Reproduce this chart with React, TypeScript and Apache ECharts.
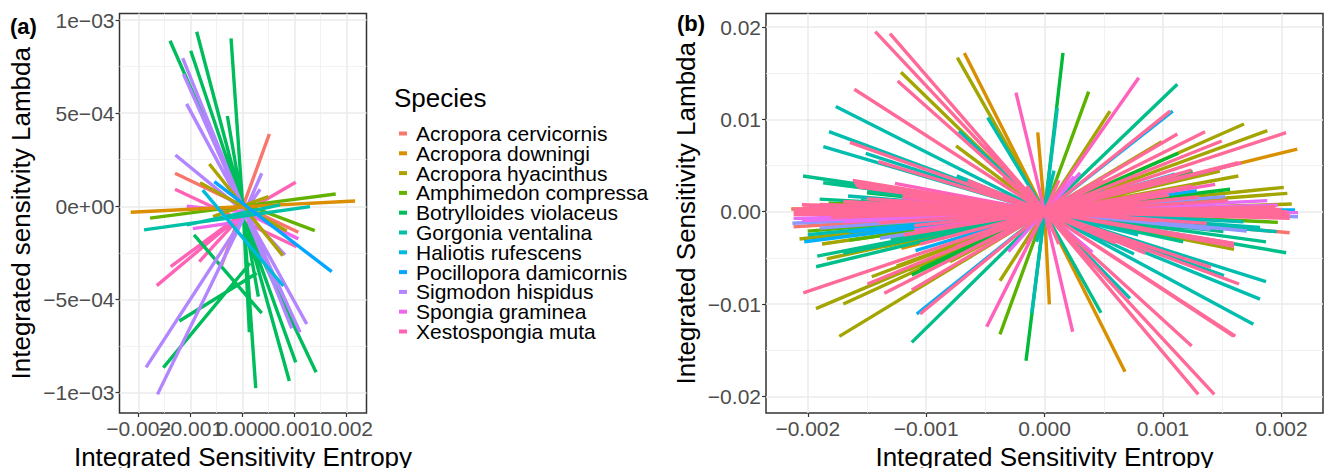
import React, { useEffect, useRef } from "react";
import * as echarts from "echarts";

type Seg = number[];
type Ray = number[];

// ---------- Panel (a): species, colours, segments [x1, y1, x2, y2] ----------
const species = [
  "Acropora cervicornis", "Acropora downingi", "Acropora hyacinthus", "Amphimedon compressa",
  "Botrylloides violaceus", "Gorgonia ventalina", "Haliotis rufescens", "Pocillopora damicornis",
  "Sigmodon hispidus", "Spongia graminea", "Xestospongia muta",
];
const speciesColors = ["#F8766D", "#DB8E00", "#AEA200", "#64B200", "#00BD5C", "#00C1A7", "#00BADE", "#00A6FF", "#B385FF", "#EF67EB", "#FF63B6"];

const cervicornis: Seg[] = [[0.000512, 0.000388, -0.000404, -0.000315], [-0.001302, 0.000177, 0.00107, -0.00014]];
const downingi: Seg[] = [[-0.002154, -0.000032, 0.00216, 0.000028]];
const hyacinthus: Seg[] = [[-0.000642, 0.000227, 0.000769, -0.000265], [-0.000821, 0.000127, 0.000846, -0.000133], [0.000493, 0.000052, -0.000571, -0.000056]];
const compressa: Seg[] = [[-0.001783, -0.000064, 0.001788, 0.000066], [0.001385, -0.000131, 0.00014, 0]];
const violaceus: Seg[] = [
  [-0.001398, 0.000889, 0.00005, -0.00003], [-0.000885, 0.000937, 0, 0], [-0.001, 0.000835, 0, 0],
  [-0.000225, 0.000902, 0, 0], [-0.000296, 0.000485, 0, 0], [0.00025, -0.000977, 0.00002, -0.00006],
  [0.000127, -0.000676, 0.00002, -0.00008], [0.0003, -0.000485, 0.00005, -0.00009], [0.000896, -0.000938, 0.00005, -0.00009],
  [0.001019, -0.000838, 0.00005, -0.00009], [0.00141, -0.000891, 0.00005, -0.00009],
  [-0.001527, -0.000866, 0.00014, -0.000306], [-0.001219, -0.000616, 0.000269, -0.00036], [-0.000937, -0.000154, 0.000365, -0.000574],
];
const ventalina: Seg[] = [[-0.001898, -0.000127, 0.001294, -0.000002], [-0.001077, -0.0001, 0.000717, 0.000007]];
const rufescens: Seg[] = [[-0.000769, 0.000087, 0.000781, -0.000428]];
const damicornis: Seg[] = [[-0.000546, 0.000132, 0.001711, -0.000351]];
const hispidus: Seg[] = [
  [-0.001155, 0.000795, 0.00004, -0.00003], [-0.00114, 0.00071, 0.00004, -0.00003], [-0.00108, 0.00055, 0.00004, -0.00003],
  [-0.001295, 0.000275, 0.00004, -0.00003], [-0.00186, -0.000865, 0.00004, -0.00005], [-0.00164, -0.00101, 0.00004, -0.00005],
  [0.001102, -0.000676, 0.00004, -0.00003], [0.000942, -0.000655, 0.00004, -0.00003], [0.001231, -0.000632, 0.00004, -0.00003],
  [0.000813, -0.000261, 0.00004, -0.00003], [0.000365, 0.000177, 0.00004, -0.00003], [0.000333, 0.000091, 0.00004, -0.00003],
];
const graminea: Seg[] = [[-0.00096, -0.00012, 0.00002, -0.00008], [0.00107, -0.000175, 0.00002, -0.00003], [-0.001077, 0, 0.00002, -0.00003]];
const muta: Seg[] = [
  [-0.001302, 0.000091, 0.001038, -0.000217], [-0.001654, -0.000426, 0.00004, -0.00003], [-0.001385, -0.000324, 0.00004, -0.00003],
  [-0.000835, -0.000297, 0.00004, -0.00003], [0.001019, 0.000129, 0.00004, -0.00003],
];
const panelASegments = [cervicornis, downingi, hyacinthus, compressa, violaceus, ventalina, rufescens, damicornis, hispidus, graminea, muta];
const panelADrawOrder = [0, 10, 9, 4, 8, 2, 3, 1, 5, 6, 7];

// ---------- Panel (b): end points [x, y] of lines leaving the origin, by hue ----------
const hueNames = ["salmon", "orange", "olive", "leaf", "green", "seagreen", "teal", "sky", "periwinkle", "violet", "hotpink", "rose"];
const hueColors = ["#F8766D", "#D89000", "#A3A500", "#5BB300", "#00BA38", "#00BF8A", "#00BDB0", "#00B0F6", "#8E96FF", "#E76BF3", "#FF62BC", "#FF6A98"];

const salmonRays: Ray[] = [[-0.00212, -0.00162], [0.00207, -0.00227]];
const orangeRays: Ray[] = [[-0.000678, 0.0172], [-0.000058, 0.0086], [0.002134, 0.00679], [-0.00121, -0.00397], [0.00004, -0.01003], [0.000679, -0.01733], [-0.00214, 0.0003]];
const oliveRays: Ray[] = [
  [-0.001213, 0.0151], [-0.000737, 0.0167], [-0.000748, 0.00712], [0.000552, 0.0109], [0.000989, 0.00758], [0.001684, 0.0095],
  [0.001881, 0.00878], [0.001481, 0.00441], [0.001636, 0.00387], [0.00202, 0.00264], [0.00205, 0.00199], [0.002087, 0.00083],
  [-0.001931, -0.0105], [-0.0017, -0.01], [-0.001734, -0.0135], [-0.00146, -0.00704], [-0.000377, -0.00748], [-0.00184, -0.0051],
  [-0.00188, -0.0035], [-0.00207, -0.00296], [-0.00136, -0.00379], [-0.0008, -0.00542], [0.0016, -0.00408], [-0.00125, -0.0059],
  [-0.00115, -0.0063],
];
const leafRays: Ray[] = [[0.000372, 0.013], [-0.000377, -0.01328], [-0.001825, 0.00093], [-0.002, -0.0021], [0.00197, -0.00115], [-0.00165, -0.0031]];
const greenRays: Ray[] = [[0.000155, 0.0172], [0.001129, 0.00633], [0.001566, 0.00243], [-0.000157, -0.01614], [-0.001122, -0.00686], [-0.00105, -0.0062], [0.00125, 0.0044], [-0.0015, 0.00206]];
const seagreenRays: Ray[] = [
  [0.001121, 0.0138], [-0.00204, 0.00387], [-0.00187, 0.00314], [-0.0018, 0.0031], [-0.0019, 0.00137], [-0.00193, -0.00596], [-0.00192, -0.0048],
  [-0.001122, -0.01415], [0.000476, -0.01094], [0.00187, -0.00326], [0.00204, -0.00444], [0.00117, -0.00325], [0.00151, -0.00216],
  [-0.0015, 0.00215], [-0.00155, 0.0012], [-0.0013, -0.003], [-0.0017, -0.0045],
];
const tealRays: Ray[] = [
  [-0.001764, 0.0114], [-0.001821, 0.00867], [-0.001869, 0.00704], [-0.001511, 0.00633], [-0.000742, 0.0039], [-0.000723, 0.00874], [-0.000481, 0.0102],
  [-0.00166, 0.0017], [0.000107, 0.0112], [0.000079, 0.00444], [-0.000109, -0.011], [-0.000067, -0.00325], [0.000721, -0.00938],
  [0.001763, -0.0122], [0.001819, -0.00946], [0.00187, -0.00758], [0.001515, -0.00693], [0.000755, -0.00458], [0.00079, -0.0025],
  [0.00196, -0.00216], [0.00182, -0.0017], [0.00168, -0.00109], [-0.002, -0.0025], [0.0005, 0.0023],
];
const skyRays: Ray[] = [[0.001082, 0.0109], [0.001101, 0.00408], [0.001285, 0.00228], [0.002115, 0.0002], [-0.00108, -0.01108], [-0.00203, -0.00325], [-0.00109, -0.0042], [-0.00165, -0.0022], [0.0013, -0.0012]];
const periwinkleRays: Ray[] = [[0.001524, 0.00163], [0.00214, -0.00054], [0.001707, -0.00209], [-0.00213, -0.00125], [-0.0019, -0.00178], [-0.00139, -0.00287], [0.0014, -0.0019]];
const violetRays: Ray[] = [[0.00188, 0.0012], [0.00197, 0.00072], [0.00214, -0.0001], [-0.00212, -0.00072], [-0.00205, -0.00095], [-0.0017, -0.0011], [-0.000306, -0.00433], [0.000403, -0.0044], [0.0003, 0.0042], [0.00025, 0.0038], [-0.0013, 0.0012], [0.0017, -0.0003]];
const hotpinkRays: Ray[] = [[-0.000242, 0.0129], [0.000795, 0.0145], [-0.001264, 0.00307], [0.00144, 0.00297], [-0.000489, -0.01246], [0.000237, -0.013], [0.00166, 0.0053], [0.00113, 0.00408], [-0.0011, -0.002], [-0.0012, 0.0015]];
const roseRays: Ray[] = [
  [-0.00143, 0.0195], [-0.001306, 0.0193], [-0.001241, 0.01416], [-0.001607, 0.01326], [-0.001644, 0.00752], [-0.001404, 0.00542],
  [-0.00162, 0.0034], [-0.00161, 0.0032], [-0.0016, 0.003], [-0.00159, 0.00285], [-0.00158, 0.0027], [-0.0015, 0.00255], [-0.0014, 0.0024], [-0.0013, 0.00225], [-0.0012, 0.0021], [-0.00204, 0.0005], [-0.00212, 0],
  [-0.00213, 0.0003], [-0.00212, -0.0003], [-0.00205, 0.00075], [-0.0019, 0.0008], [-0.0017, 0.0011], [-0.0015, 0.0014], [-0.0012, 0.0017], [-0.0018, -0.0006],
  [-0.0014, -0.0012], [-0.0011, -0.0015], [-0.00065, 0.0034], [-0.00035, 0.0038], [-0.00015, 0.0028],
  [0.00106, 0.0109], [0.001121, 0.00842], [0.001355, 0.00867], [0.001496, 0.00766], [0.002039, 0.00856], [0.001636, 0.00531],
  [0.00124, 0.0045], [0.00103, 0.0036], [0.00125, 0.0028], [0.0008, 0.0028], [0.0005, 0.0033], [0.00012, 0.0034], [0.00155, 0.0012],
  [0.0013, 0.0016], [0.00105, 0.0018], [0.00195, 0.00055], [0.002, 0.00025], [0.00205, 0], [0.00207, -0.00035], [0.00207, -0.00072],
  [-0.002038, -0.00878], [-0.001497, -0.00783], [-0.001354, -0.00884], [-0.001122, -0.00848], [-0.001052, -0.01108], [-0.00119, -0.00252],
  [-0.00105, -0.0035], [-0.00075, -0.0038], [-0.0004, -0.0042], [-0.00015, -0.0035], [0.00012, -0.0035], [0.0003, -0.0035],
  [0.001298, -0.01978], [0.001433, -0.01978], [0.001242, -0.01455], [0.001594, -0.01347], [0.00161, -0.01347], [0.001642, -0.00783],
  [0.001405, -0.00603], [0.0016, -0.00342], [0.0016, -0.00375], [0.00145, -0.0032], [0.0012, -0.0028], [0.00092, -0.002], [0.00137, -0.00126],
  [0.00095, -0.00095], [0.0006, -0.0034], [0.00085, -0.0045],
];
const panelBRays = [salmonRays, orangeRays, oliveRays, leafRays, greenRays, seagreenRays, tealRays, skyRays, periwinkleRays, violetRays, hotpinkRays, roseRays];

// ---------- Axes ----------
const aXTicks = [-0.002, -0.001, 0, 0.001, 0.002];
const aXLabels = ["−0.002", "−0.001", "0.000", "0.001", "0.002"];
const aXMinor = [-0.0015, -0.0005, 0.0005, 0.0015];
const aYTicks = [-0.001, -0.0005, 0, 0.0005, 0.001];
const aYLabels = ["−1e−03", "−5e−04", "0e+00", "5e−04", "1e−03"];
const aYMinor = [-0.00075, -0.00025, 0.00025, 0.00075];
const bXTicks = [-0.002, -0.001, 0, 0.001, 0.002];
const bXLabels = ["−0.002", "−0.001", "0.000", "0.001", "0.002"];
const bXMinor = [-0.0015, -0.0005, 0.0005, 0.0015];
const bYTicks = [-0.02, -0.01, 0, 0.01, 0.02];
const bYLabels = ["−0.02", "−0.01", "0.00", "0.01", "0.02"];
const bYMinor = [-0.015, -0.005, 0.005, 0.015];

const FONT = "'Liberation Sans', Arial, sans-serif";

const labelFor = (ticks: number[], labels: string[]) => (v: number) => labels[ticks.findIndex((t) => Math.abs(t - v) < 1e-9)] ?? "";

function majorAxis(gridIndex: number, ticks: number[], labels: string[], min: number, max: number, name: string, nameGap: number, position: string, labelTicks = ticks) {
  return {
    type: "value", gridIndex, min, max, name, nameLocation: "middle", nameGap, position,
    nameTextStyle: { fontFamily: FONT, fontSize: 26, color: "#000" },
    axisLine: { show: false, onZero: false },
    axisTick: { show: true, length: 4, lineStyle: { color: "#333", width: 1.2 }, customValues: ticks },
    axisLabel: {
      show: true, margin: 5, fontFamily: FONT, fontSize: 21, color: "#4D4D4D", customValues: labelTicks,
      interval: 0, showMinLabel: true, showMaxLabel: true, hideOverlap: false,
      formatter: labelFor(ticks, labels),
    },
    splitLine: { show: true, lineStyle: { color: "#EBEBEB", width: 1.5 } },
    z: 1,
  };
}
function minorAxis(gridIndex: number, ticks: number[], min: number, max: number, position: string) {
  return {
    type: "value", gridIndex, min, max, position,
    axisLine: { show: false, onZero: false },
    axisTick: { show: false, customValues: ticks },
    axisLabel: { show: false, customValues: ticks },
    splitLine: { show: true, lineStyle: { color: "#EFEFEF", width: 0.8 } },
    z: 0,
  };
}
// Panel (a)'s labels collide in the reference; a second label-only axis keeps those the first one would drop.
function labelOnlyAxis(gridIndex: number, ticks: number[], labels: string[], shown: number[], min: number, max: number) {
  return {
    type: "value", gridIndex, min, max, position: "bottom",
    axisLine: { show: false, onZero: false },
    axisTick: { show: false, customValues: shown },
    axisLabel: {
      show: true, margin: 5, fontFamily: FONT, fontSize: 21, color: "#4D4D4D", customValues: shown,
      interval: 0, showMinLabel: true, showMaxLabel: true, hideOverlap: false, formatter: labelFor(ticks, labels),
    },
    splitLine: { show: false },
    z: 2,
  };
}
const lineData = (segs: Seg[]) => segs.flatMap(([a, b, c, d]) => [[a, b], [c, d], [null, null]]);
const rayData = (rays: Ray[]) => rays.flatMap(([x, y]) => [[0, 0], [x, y], [null, null]]);

function lineSeries(name: string, color: string, data: (number | null)[][], axisIndex: number) {
  return {
    type: "line", name, data, xAxisIndex: axisIndex, yAxisIndex: axisIndex, color,
    showSymbol: false, symbol: "none", silent: true, connectNulls: false,
    lineStyle: { color, width: 3.4, cap: "butt", join: "bevel" }, itemStyle: { color },
  };
}

export default function App() {
  const ref = useRef<HTMLDivElement>(null);
  useEffect(() => {
    const chart = echarts.init(ref.current!, undefined, { renderer: "svg" });
    const aX: [number, number] = [-0.00237, 0.00238];
    const aY: [number, number] = [-0.00111, 0.001035];
    const bX: [number, number] = [-0.002353, 0.002351];
    const bY: [number, number] = [-0.0218, 0.02147];
    chart.setOption({
      animation: false,
      backgroundColor: "#fff",
      grid: [
        { left: 119.5, top: 13.5, width: 247, height: 399.5, show: true, borderColor: "#333", borderWidth: 1.5, backgroundColor: "#fff", outerBoundsMode: "none" },
        { left: 766, top: 13.5, width: 557, height: 399.5, show: true, borderColor: "#333", borderWidth: 1.5, backgroundColor: "#fff", outerBoundsMode: "none" },
      ],
      xAxis: [
        majorAxis(0, aXTicks, aXLabels, aX[0], aX[1], "Integrated Sensitivity Entropy", 25, "bottom", [-0.002, 0, 0.002]),
        majorAxis(1, bXTicks, bXLabels, bX[0], bX[1], "Integrated Sensitivity Entropy", 25, "bottom"),
        minorAxis(0, aXMinor, aX[0], aX[1], "bottom"),
        minorAxis(1, bXMinor, bX[0], bX[1], "bottom"),
        labelOnlyAxis(0, aXTicks, aXLabels, [-0.001, 0.001], aX[0], aX[1]),
      ],
      yAxis: [
        majorAxis(0, aYTicks, aYLabels, aY[0], aY[1], "Integrated sensitvity Lambda", 86, "left"),
        majorAxis(1, bYTicks, bYLabels, bY[0], bY[1], "Integrated Sensitivity Lambda", 67, "left"),
        minorAxis(0, aYMinor, aY[0], aY[1], "left"),
        minorAxis(1, bYMinor, bY[0], bY[1], "left"),
      ],
      legend: {
        show: true, orient: "vertical", left: 394, top: 118, padding: 5, itemWidth: 8, itemHeight: 4, itemGap: -1.2, icon: "rect",
        selectedMode: false, data: species,
        textStyle: { fontFamily: FONT, fontSize: 21, color: "#000", padding: [0, 0, 0, 4] },
      },
      graphic: [
        { type: "text", x: 10, y: 15, style: { text: "(a)", font: `bold 22px ${FONT}`, fill: "#000" } },
        { type: "text", x: 677, y: 12, style: { text: "(b)", font: `bold 22px ${FONT}`, fill: "#000" } },
        { type: "text", x: 394, y: 85, style: { text: "Species", font: `26px ${FONT}`, fill: "#000" } },
      ],
      series: [
        ...panelADrawOrder.map((i) => lineSeries(species[i], speciesColors[i], lineData(panelASegments[i]), 0)),
        ...panelBRays.map((r, i) => lineSeries(hueNames[i], hueColors[i], rayData(r), 1)),
      ],
    });
    return () => chart.dispose();
  }, []);
  return <div ref={ref} style={{ position: "fixed", left: 0, top: 0, width: 1324, height: 468 }} />;
}
